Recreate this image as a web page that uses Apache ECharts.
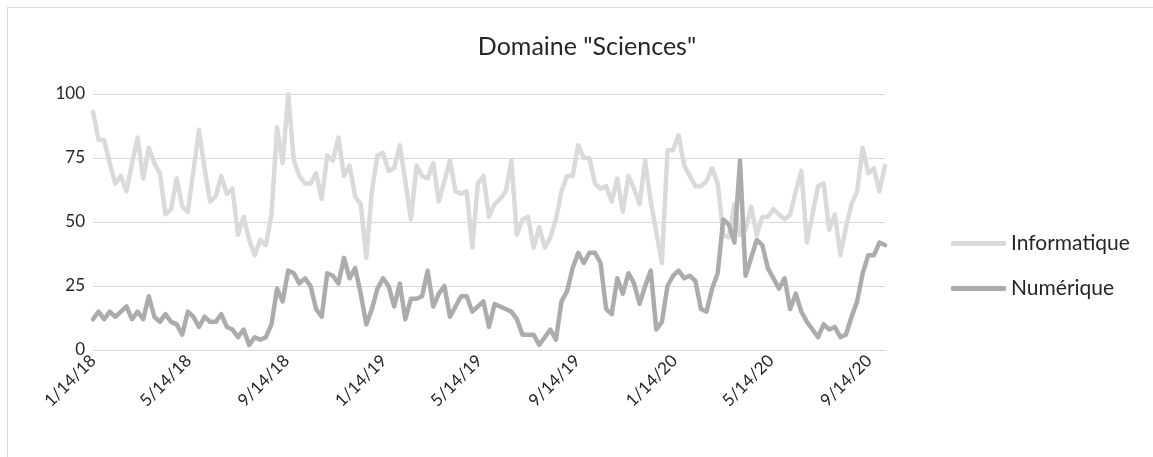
<!DOCTYPE html>
<html>
<head>
<meta charset="utf-8">
<script src="https://cdn.jsdelivr.net/npm/echarts@6/dist/echarts.min.js"></script>
<style>
html, body { margin: 0; padding: 0; background: #fff; }
#chart { width: 1153px; height: 457px; }
.frame { position: absolute; left: 7px; top: 7px; width: 1150px; height: 460px; border: 1px solid #d9d9d9; box-sizing: border-box; pointer-events: none; }
</style>
</head>
<body>
<div id="chart"></div>
<div class="frame"></div>
<script>
// weekly values, first week 1/14/18
var startDay = '2018-01-14';
var informatique = [93, 82, 82, 73, 65, 68, 62, 73, 83, 67, 79, 73, 69, 53, 55, 67, 56, 54, 70, 86,
  71, 58, 60, 68, 61, 63, 45, 52, 43, 37, 43, 41, 53, 87, 73, 100, 74, 68, 65, 65,
  69, 59, 76, 74, 83, 68, 72, 60, 57, 36, 62, 76, 77, 70, 71, 80, 66, 51, 72, 68,
  67, 73, 58, 66, 74, 62, 61, 62, 40, 65, 68, 52, 57, 59, 62, 74, 45, 51, 52, 40,
  48, 40, 44, 51, 62, 68, 68, 80, 75, 75, 65, 63, 64, 58, 67, 54, 68, 63, 57, 74,
  58, 46, 34, 78, 78, 84, 72, 68, 64, 64, 66, 71, 65, 45, 44, 57, 45, 47, 56, 45,
  52, 52, 55, 53, 51, 53, 62, 70, 42, 53, 64, 65, 47, 53, 37, 48, 57, 62, 79, 69,
  71, 62, 72];
var numerique = [12, 15, 12, 15, 13, 15, 17, 12, 15, 12, 21, 13, 11, 14, 11, 10, 6, 15, 13, 9,
  13, 11, 11, 14, 9, 8, 5, 8, 2, 5, 4, 5, 10, 24, 19, 31, 30, 26, 28, 25,
  16, 13, 30, 29, 26, 36, 28, 32, 22, 10, 16, 24, 28, 25, 17, 26, 12, 20, 20, 21,
  31, 17, 22, 25, 13, 17, 21, 21, 15, 17, 19, 9, 18, 17, 16, 15, 12, 6, 6, 6,
  2, 5, 8, 4, 19, 23, 32, 38, 34, 38, 38, 34, 16, 14, 28, 22, 30, 26, 18, 25,
  31, 8, 11, 25, 29, 31, 28, 29, 27, 16, 15, 24, 30, 51, 49, 42, 74, 29, 36, 43,
  41, 32, 28, 24, 28, 16, 22, 15, 11, 8, 5, 10, 8, 9, 5, 6, 13, 19, 30, 37,
  37, 42, 41];
var tickLabels = ['1/14/18', '5/14/18', '9/14/18', '1/14/19', '5/14/19', '9/14/19', '1/14/20', '5/14/20', '9/14/20'];

// x axis counts days since the first week
var DAY = 86400000;
var t0 = Date.parse(startDay + 'T00:00:00Z');
function dayOf(label) {
    var p = label.split('/');
    return Math.round((Date.UTC(2000 + Number(p[2]), Number(p[0]) - 1, Number(p[1])) - t0) / DAY);
}
var tickDays = tickLabels.map(dayOf);
function fmt(v) {
    var k = tickDays.indexOf(Math.round(v));
    return k < 0 ? '' : tickLabels[k];
}

var chart = echarts.init(document.getElementById('chart'));
var font = 'Lato, "Open Sans", sans-serif';
var ink = '#262626';
var option = {
    animation: false,
    backgroundColor: '#fff',
    textStyle: { fontFamily: font },
    title: {
        text: 'Domaine "Sciences"',
        left: 582,
        textAlign: 'center',
        top: 29,
        textStyle: { fontSize: 25, fontWeight: 'normal', color: ink, fontFamily: font }
    },
    legend: {
        orient: 'vertical',
        left: 946,
        top: 228,
        icon: 'roundRect',
        itemWidth: 55,
        itemHeight: 5,
        itemGap: 24,
        textStyle: { fontSize: 21, color: ink, fontFamily: font },
        data: ['Informatique', 'Numérique']
    },
    grid: { left: 93, right: 268, top: 94, bottom: 107 },
    xAxis: {
        type: 'value',
        min: 0,
        max: (informatique.length - 1) * 7,
        axisLine: { show: true, onZero: false, lineStyle: { color: '#d9d9d9', width: 1 } },
        axisTick: { show: false },
        splitLine: { show: false },
        axisLabel: {
            customValues: tickDays,
            formatter: fmt,
            rotate: 45,
            margin: 8,
            hideOverlap: false,
            showMinLabel: true,
            showMaxLabel: true,
            fontSize: 17,
            color: ink,
            fontFamily: font
        }
    },
    yAxis: {
        type: 'value',
        min: 0,
        max: 100,
        interval: 25,
        axisLine: { show: false },
        axisTick: { show: false },
        splitLine: { lineStyle: { color: '#d9d9d9', width: 1 } },
        axisLabel: { fontSize: 17, color: ink, margin: 8, fontFamily: font }
    },
    series: [
        {
            name: 'Informatique',
            type: 'line',
            symbol: 'none',
            data: informatique.map(function (v, i) { return [i * 7, v]; }),
            itemStyle: { color: '#dadada' },
            lineStyle: { color: '#dadada', width: 4.5, join: 'round', cap: 'round' }
        },
        {
            name: 'Numérique',
            type: 'line',
            symbol: 'none',
            data: numerique.map(function (v, i) { return [i * 7, v]; }),
            itemStyle: { color: '#acacac' },
            lineStyle: { color: '#acacac', width: 4.5, join: 'round', cap: 'round' }
        }
    ]
};
chart.setOption(option);
</script>
</body>
</html>
